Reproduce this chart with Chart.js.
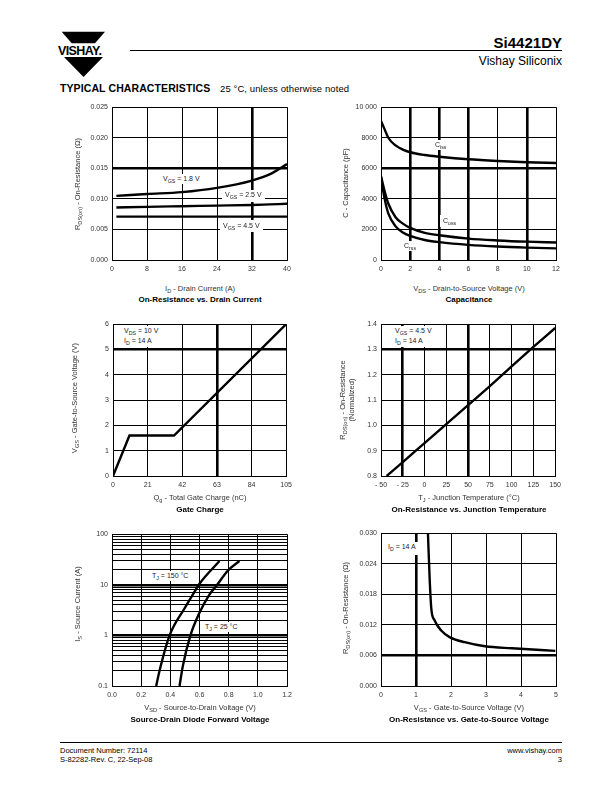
<!DOCTYPE html>
<html>
<head>
<meta charset="utf-8">
<script src="https://cdn.jsdelivr.net/npm/chart.js@4/dist/chart.umd.min.js"></script>
<style>
body{margin:0;width:612px;height:792px;position:relative;background:#fff;font-family:"Liberation Sans",Arial,sans-serif;color:#000;overflow:hidden}
canvas{position:absolute}
.a{position:absolute;white-space:nowrap}
.yt{position:absolute;transform:translate(-50%,-50%) rotate(-90deg);white-space:nowrap;font-size:7.5px;color:#333;text-align:center;line-height:9px}
.xt{position:absolute;transform:translateX(-50%);font-size:7.5px;color:#333;white-space:nowrap}
.cap{position:absolute;transform:translateX(-50%);font-size:8px;font-weight:bold;white-space:nowrap}
.lb{position:absolute;background:#fff;font-size:7px;color:#222;line-height:10px;white-space:nowrap}
sub{font-size:75%;vertical-align:-2px;line-height:0}
</style>
</head>
<body>

<!-- cabecera -->
<svg class="a" style="left:56px;top:29px" width="62" height="52">
  <polygon points="5.7,2.7 49,2.7 39,14.3 15.7,14.3" fill="#000"/>
  <text x="2" y="25.5" font-family="Liberation Sans" font-weight="bold" font-size="12.5" letter-spacing="-0.6">VISHAY.</text>
  <polygon points="8,28 47,28 27.5,48" fill="#000"/>
</svg>
<div class="a" style="left:130px;top:50px;width:432px;border-top:1px solid #000"></div>
<div class="a" style="right:50px;top:34px;font-size:15px;font-weight:bold">Si4421DY</div>
<div class="a" style="right:50px;top:54px;font-size:12px">Vishay Siliconix</div>
<div class="a" style="left:60px;top:82px;font-size:10.5px;font-weight:bold;letter-spacing:0.1px">TYPICAL CHARACTERISTICS</div>
<div class="a" style="left:220px;top:83px;font-size:9.5px;letter-spacing:0.1px">25 °C, unless otherwise noted</div>

<!-- graficos -->
<canvas id="g1"></canvas>
<canvas id="g2"></canvas>
<canvas id="g3"></canvas>
<canvas id="g4"></canvas>
<canvas id="g5"></canvas>
<canvas id="g6"></canvas>

<!-- textos grafico 1 -->
<div class="yt" style="left:77px;top:184px">R<sub>DS(on)</sub> - On-Resistance (Ω)</div>
<div class="xt" style="left:200px;top:284px">I<sub>D</sub> - Drain Current (A)</div>
<div class="cap" style="left:200px;top:295px">On-Resistance vs. Drain Current</div>
<div class="lb" style="left:161px;top:174px;padding:0 2px">V<sub>GS</sub> = 1.8 V</div>
<div class="lb" style="left:222px;top:190px;padding:0 3px 2px">V<sub>GS</sub> = 2.5 V</div>
<div class="lb" style="left:220px;top:220px;padding:1px 3px">V<sub>GS</sub> = 4.5 V</div>

<!-- textos grafico 2 -->
<div class="yt" style="left:345px;top:183px">C - Capacitance (pF)</div>
<div class="xt" style="left:469px;top:284px">V<sub>DS</sub> - Drain-to-Source Voltage (V)</div>
<div class="cap" style="left:469px;top:295px">Capacitance</div>
<div class="lb" style="left:434px;top:140px;padding:0 1px">C<sub>iss</sub></div>
<div class="lb" style="left:440px;top:215px;padding:1px 3px">C<sub>oss</sub></div>
<div class="lb" style="left:403px;top:241px;padding:0 1px">C<sub>rss</sub></div>

<!-- textos grafico 3 -->
<div class="yt" style="left:74px;top:398px">V<sub>GS</sub> - Gate-to-Source Voltage (V)</div>
<div class="xt" style="left:200px;top:493px">Q<sub>g</sub> - Total Gate Charge (nC)</div>
<div class="cap" style="left:200px;top:505px">Gate Charge</div>
<div class="lb" style="left:115px;top:326px;padding:0 4px 1px 9px">V<sub>DS</sub> = 10 V<br>I<sub>D</sub> = 14 A</div>

<!-- textos grafico 4 -->
<div class="yt" style="left:347px;top:400px">R<sub>DS(on)</sub> - On-Resistance<br>(Normalized)</div>
<div class="xt" style="left:469px;top:493px">T<sub>J</sub> - Junction Temperature (°C)</div>
<div class="cap" style="left:469px;top:505px">On-Resistance vs. Junction Temperature</div>
<div class="lb" style="left:383px;top:326px;padding:0 2px 1px 12px">V<sub>GS</sub> = 4.5 V<br>I<sub>D</sub> = 14 A</div>

<!-- textos grafico 5 -->
<div class="yt" style="left:77px;top:604px">I<sub>S</sub> - Source Current (A)</div>
<div class="xt" style="left:200px;top:703px">V<sub>SD</sub> - Source-to-Drain Voltage (V)</div>
<div class="cap" style="left:200px;top:715px">Source-Drain Diode Forward Voltage</div>
<div class="lb" style="left:150px;top:571px;padding:0 2px">T<sub>J</sub> = 150 °C</div>
<div class="lb" style="left:203px;top:622px;padding:0 2px">T<sub>J</sub> = 25 °C</div>

<!-- textos grafico 6 -->
<div class="yt" style="left:345px;top:608px">R<sub>DS(on)</sub> - On-Resistance (Ω)</div>
<div class="xt" style="left:469px;top:703px">V<sub>GS</sub> - Gate-to-Source Voltage (V)</div>
<div class="cap" style="left:469px;top:715px">On-Resistance vs. Gate-to-Source Voltage</div>
<div class="lb" style="left:383px;top:542px;padding:0 4px 3px 5px">I<sub>D</sub> = 14 A</div>

<!-- pie -->
<div class="a" style="left:60px;top:742px;width:502px;border-top:1px solid #000"></div>
<div class="a" style="left:60px;top:746px;font-size:7.5px;line-height:9px">Document Number: 72114<br>S-82282-Rev. C, 22-Sep-08</div>
<div class="a" style="right:50px;top:746px;font-size:7.5px;line-height:9px;text-align:right">www.vishay.com<br>3</div>

<script>
// On-Resistance vs. Drain Current
const idCorriente = [1, 8, 16, 24, 32, 36, 40];
const rds18 = [0.0105, 0.0108, 0.0111, 0.0118, 0.0130, 0.0140, 0.0157];
const rds25 = [0.0086, 0.0087, 0.0088, 0.0089, 0.0090, 0.0091, 0.0092];
const rds45 = [0.0071, 0.0071, 0.0071, 0.0071, 0.0071, 0.0071, 0.0071];
const g1xTicks = [0, 8, 16, 24, 32, 40];
const g1xLabels = ["0", "8", "16", "24", "32", "40"];
const g1yTicks = [0, 0.005, 0.010, 0.015, 0.020, 0.025];
const g1yLabels = ["0.000", "0.005", "0.010", "0.015", "0.020", "0.025"];

// Capacitance
const vds = [0, 0.25, 0.5, 1, 1.5, 2, 3, 4, 6, 8, 10, 12];
const ciss = [9100, 8550, 8000, 7500, 7220, 7050, 6870, 6760, 6590, 6480, 6400, 6350];
const coss = [5500, 4500, 3700, 2800, 2380, 2100, 1780, 1620, 1400, 1280, 1200, 1150];
const crss = [5400, 4000, 3050, 2200, 1800, 1580, 1310, 1170, 990, 880, 810, 760];
const g2xTicks = [0, 2, 4, 6, 8, 10, 12];
const g2xLabels = ["0", "2", "4", "6", "8", "10", "12"];
const g2yTicks = [0, 2000, 4000, 6000, 8000, 10000];
const g2yLabels = ["0", "2000", "4000", "6000", "8000", "10 000"];

// Gate Charge
const qg = [0, 10, 37, 105];
const vgsCarga = [0, 1.6, 1.6, 6];
const g3xTicks = [0, 21, 42, 63, 84, 105];
const g3xLabels = ["0", "21", "42", "63", "84", "105"];
const g3yTicks = [0, 1, 2, 3, 4, 5, 6];
const g3yLabels = ["0", "1", "2", "3", "4", "5", "6"];

// On-Resistance vs. Junction Temperature
const tj = [-43.5, -25, 0, 25, 50, 75, 100, 125, 150];
const rdsNorm = [0.8, 0.855, 0.93, 1.005, 1.08, 1.155, 1.233, 1.31, 1.385];
const g4xTicks = [-50, -25, 0, 25, 50, 75, 100, 125, 150];
const g4xLabels = ["- 50", "- 25", "0", "25", "50", "75", "100", "125", "150"];
const g4yTicks = [0.8, 0.9, 1.0, 1.1, 1.2, 1.3, 1.4];
const g4yLabels = ["0.8", "0.9", "1.0", "1.1", "1.2", "1.3", "1.4"];

// Source-Drain Diode Forward Voltage
const vsd150 = [0.303, 0.326, 0.395, 0.497, 0.566, 0.600, 0.737];
const is150 = [0.1, 0.2, 1.0, 3.4, 7.3, 10.5, 29.5];
const vsd25 = [0.463, 0.486, 0.538, 0.600, 0.668, 0.714, 0.794, 0.874];
const is25 = [0.1, 0.25, 1.0, 2.8, 6.4, 9.4, 19, 29.5];
const g5xTicks = [0, 0.2, 0.4, 0.6, 0.8, 1.0, 1.2];
const g5xLabels = ["0.0", "0.2", "0.4", "0.6", "0.8", "1.0", "1.2"];
const g5yTicks = [0.1, 0.2, 0.3, 0.4, 0.5, 0.6, 0.7, 0.8, 0.9,
                  1, 2, 3, 4, 5, 6, 7, 8, 9,
                  10, 20, 30, 40, 50, 60, 70, 80, 90, 100];
const g5yLabels = ["0.1", "", "", "", "", "", "", "", "",
                   "1", "", "", "", "", "", "", "", "",
                   "10", "", "", "", "", "", "", "", "", "100"];

// On-Resistance vs. Gate-to-Source Voltage
const vgs = [1.341, 1.39, 1.437, 1.53, 1.72, 1.96, 2.39, 2.97, 3.74, 4.98];
const rdsVgs = [0.030, 0.0211, 0.0152, 0.0129, 0.0109, 0.0096, 0.0086, 0.0078, 0.0074, 0.0069];
const g6xTicks = [0, 1, 2, 3, 4, 5];
const g6xLabels = ["0", "1", "2", "3", "4", "5"];
const g6yTicks = [0, 0.006, 0.012, 0.018, 0.024, 0.030];
const g6yLabels = ["0.000", "0.006", "0.012", "0.018", "0.024", "0.030"];

const fuente = {family: "Liberation Sans", size: 7};

function pares(xs, ys) {
    return xs.map((x, i) => ({x: x, y: ys[i]}));
}

function eje(tipo, min, max, ticks, labels, gruesas, esX) {
    return {
        type: tipo,
        min: min,
        max: max,
        afterBuildTicks: s => { s.ticks = ticks.map(v => ({value: v})); },
        afterFit: s => { if (esX) s.height = 20; else s.width = 50; },
        ticks: {
            callback: (v, i) => labels[i],
            font: fuente,
            color: "#333",
            padding: esX ? 5 : 4,
            autoSkip: false,
            maxRotation: 0
        },
        grid: {
            color: "#000",
            drawTicks: false,
            lineWidth: ctx => {
                const v = ctx.tick ? ctx.tick.value : null;
                return gruesas.some(t => Math.abs(t - v) < 1e-9) ? 2.6 : 1;
            }
        },
        border: {color: "#000", width: 1}
    };
}

function grafica(id, caja, ejeX, ejeY, datasets, suave) {
    const cv = document.getElementById(id);
    const w = caja.r - caja.l + 60;
    const h = caja.b - caja.t + 28;
    cv.width = w;
    cv.height = h;
    cv.style.left = (caja.l - 50) + "px";
    cv.style.top = (caja.t - 8) + "px";
    new Chart(cv, {
        type: "line",
        data: {datasets: datasets.map(d => ({
            data: d,
            borderColor: "#000",
            borderWidth: 2.4,
            pointRadius: 0,
            cubicInterpolationMode: suave ? "monotone" : "default",
            tension: 0
        }))},
        options: {
            responsive: false,
            animation: false,
            devicePixelRatio: 1,
            layout: {padding: {top: 8, right: 10, left: 0, bottom: 0}},
            plugins: {legend: {display: false}, tooltip: {enabled: false}},
            scales: {x: ejeX, y: ejeY}
        }
    });
}

grafica("g1", {l: 112, r: 287, t: 107, b: 260},
    eje("linear", 0, 40, g1xTicks, g1xLabels, [32], true),
    eje("linear", 0, 0.025, g1yTicks, g1yLabels, [0.015], false),
    [pares(idCorriente, rds18), pares(idCorriente, rds25), pares(idCorriente, rds45)], true);

grafica("g2", {l: 381, r: 556, t: 107, b: 260},
    eje("linear", 0, 12, g2xTicks, g2xLabels, [2, 4, 6, 10], true),
    eje("linear", 0, 10000, g2yTicks, g2yLabels, [6000], false),
    [pares(vds, ciss), pares(vds, coss), pares(vds, crss)], true);

grafica("g3", {l: 113, r: 287, t: 324, b: 476},
    eje("linear", 0, 105, g3xTicks, g3xLabels, [63], true),
    eje("linear", 0, 6, g3yTicks, g3yLabels, [5], false),
    [pares(qg, vgsCarga)], false);

grafica("g4", {l: 381, r: 556, t: 324, b: 476},
    eje("linear", -50, 150, g4xTicks, g4xLabels, [-25, 50], true),
    eje("linear", 0.8, 1.4, g4yTicks, g4yLabels, [1.3], false),
    [pares(tj, rdsNorm)], true);

grafica("g5", {l: 112, r: 287, t: 534, b: 686},
    eje("linear", 0, 1.2, g5xTicks, g5xLabels, [], true),
    eje("logarithmic", 0.1, 100, g5yTicks, g5yLabels, [1, 10], false),
    [pares(vsd150, is150), pares(vsd25, is25)], true);

grafica("g6", {l: 381, r: 556, t: 533, b: 686},
    eje("linear", 0, 5, g6xTicks, g6xLabels, [1], true),
    eje("linear", 0, 0.030, g6yTicks, g6yLabels, [0.006], false),
    [pares(vgs, rdsVgs)], true);
</script>
</body>
</html>
